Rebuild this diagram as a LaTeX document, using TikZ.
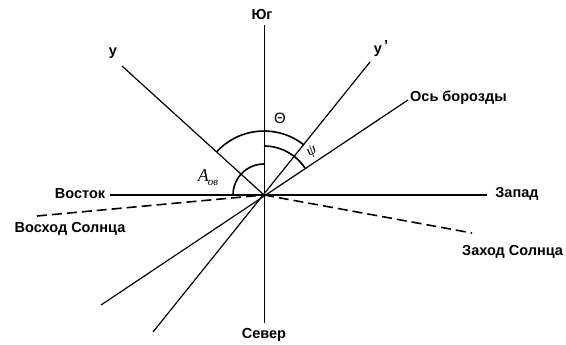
\documentclass[tikz,border=0pt]{standalone}
\usepackage{fontspec}
\setmainfont{Liberation Sans}
\newfontfamily\serifgr{Liberation Serif}
\begin{document}
\begin{tikzpicture}[x=1pt,y=1pt,
  lbl/.style={font=\bfseries\fontsize{14.5}{16}\selectfont, inner sep=0pt},
  ray/.style={line width=1.2pt},
  sunray/.style={line width=1.6pt, dash pattern=on 10pt off 5pt},
  angarc/.style={line width=1.6pt}]
\useasboundingbox (0,0) rectangle (566,345);
\coordinate (O) at (264,150);
\coordinate (S) at (264,320);
\coordinate (N) at (264,22);
\coordinate (E) at (110,150);
\coordinate (W) at (487,150);
\coordinate (Y) at (122,279);
\coordinate (Yp) at (370,283);
\coordinate (Ypb) at (153,13);
\coordinate (Ax) at (408,245);
\coordinate (Axb) at (101,40);
\coordinate (Rise) at (37,129);
\coordinate (Set) at (472,112);
% lines
\draw[line width=0.9pt] (S) -- (N);
\draw[line width=2pt] (E) -- (W);
\draw[ray] (Y) -- (O);
\draw[ray] (Yp) -- (Ypb);
\draw[ray] (Ax) -- (Axb);
\draw[sunray] (Rise) -- (O);
\draw[sunray] (O) -- (Set);
% arcs
\draw[angarc] ([shift={(137.7:64)}]O) arc[start angle=137.7, end angle=51.4, radius=64];
\draw[angarc] ([shift={(90:49)}]O) arc[start angle=90, end angle=33.4, radius=49];
\draw[angarc] ([shift={(180:31)}]O) arc[start angle=180, end angle=90, radius=31];
% labels
\node[lbl] (lS) at (262,330) {Юг};
\node[lbl] (lN) at (264,10) {Север};
\node[lbl] (lE) at (80,151) {Восток};
\node[lbl] (lW) at (517,151) {Запад};
\node[lbl] (lR) at (70,116) {Восход Солнца};
\node[lbl, anchor=west] (lSet) at (462,93) {Заход Солнца};
\node[lbl, anchor=west] (lAx) at (410,247) {Ось борозды};
\node[lbl] (lY) at (113,292) {y};
\node[lbl] (lYp) at (381,296) {y\kern2pt\raisebox{3pt}{'}};
\node[font=\fontsize{15}{17}\selectfont] (lT) at (280,227) {Θ};
\node[font=\fontsize{18}{20}\selectfont, inner sep=0pt] (lA) at (208,167) {\serifgr\itshape A\kern-1pt\raisebox{-4pt}{\fontsize{11}{12}\selectfont ов}};
\node[font=\serifgr\itshape\fontsize{15}{16}\selectfont, rotate=30] (lP) at (312,193) {ψ};
\end{tikzpicture}
\end{document}
